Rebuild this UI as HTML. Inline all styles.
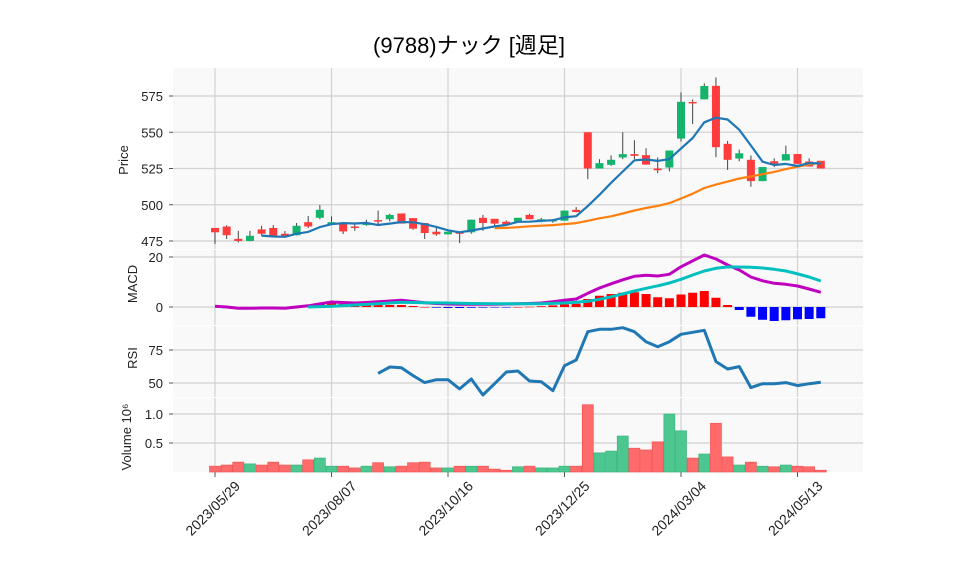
<!DOCTYPE html>
<html><head><meta charset="utf-8">
<style>
body{margin:0;background:#fff;}
svg{display:block;font-family:"Liberation Sans","Noto Sans CJK JP",sans-serif;}
</style></head>
<body>
<svg id="chart" width="958" height="575" viewBox="0 0 958 575" xmlns="http://www.w3.org/2000/svg">
<text x="469" y="53" text-anchor="middle" font-size="22" fill="#000">(9788)ナック [週足]</text>
<g id="panels"></g>
<g id="marks"></g>
</svg>
<script>
const dates=['2023/05/29','2023/08/07','2023/10/16','2023/12/25','2024/03/04','2024/05/13'];
const dateIdx=[0,10,20,30,40,50];
const opens=[484,485,476.5,475,483,484,480,479,488,491,486.5,487.4,485,486,489.4,490,494,490.8,487.4,481.4,479.6,481,481,491,490.3,488.3,488.5,493,489,488.5,489,496.5,550,525,527.5,532.6,534.9,534.2,525,525.7,545.6,570.9,572.7,582,542,531.9,531,516.3,530,530.5,535,529.8,530.3];
const highs=[484,485.8,482,482,485.5,486,481.9,487.4,492.2,499.8,492,487.4,487.4,489.7,496,493.8,494,490.8,487.4,484,481.4,481,489.7,493,490.3,489.2,491,493.8,491,490,496,498.4,550,531.4,534,550,544.5,539,532.6,537.4,577.5,572.7,583.7,587.8,544,538,534,526,532,540.8,535,532,530.3];
const lows=[473,476.4,474,474.8,478.6,477.7,478,478.8,484,490,486.4,479.8,482,485.5,485.5,488.5,487,482.8,476.4,478.6,479.6,473.6,480,482,485,486.2,488,490,488,487.5,489,494.7,517.6,525,526.8,531.4,531.6,527.7,521.8,523,543.6,555.7,572.7,532.8,524,530,512.4,516.3,526,530.5,528.2,526.4,525];
const closes=[481,479,475,478.6,480,478,478,485.5,485,496.5,488,481.6,484.4,487,489,493,487,483.5,480.5,479.6,481.4,480,489.7,487.4,487,486.2,491,490,490,489.5,496,495,525,528.7,531,534.9,533.7,527.7,523.8,537.4,571,570.2,581.9,539.7,531,535.5,516.3,526,528.2,534.9,528.2,526.4,525];
const volumes=[0.10,0.12,0.17,0.14,0.12,0.17,0.12,0.12,0.21,0.24,0.10,0.10,0.07,0.10,0.16,0.09,0.10,0.16,0.17,0.07,0.07,0.10,0.10,0.10,0.05,0.03,0.09,0.10,0.07,0.07,0.10,0.10,1.16,0.33,0.36,0.62,0.41,0.38,0.52,1.0,0.71,0.24,0.31,0.84,0.26,0.12,0.17,0.10,0.09,0.12,0.10,0.09,0.03];
const macdLine=[0.3,0,-0.5,-0.5,-0.4,-0.4,-0.5,0,0.5,1.3,2,1.8,1.6,1.8,2.1,2.4,2.7,2.2,1.7,1.4,1.2,1.1,1.1,1.1,1.1,1.2,1.3,1.4,1.6,2.1,2.7,3.2,5.5,7.6,9.3,10.9,12.3,12.7,12.4,13.1,16.1,18.5,20.8,19.2,16.8,14.8,12,10.5,9.5,9.1,8.4,7.2,5.9];
const signalLine=[null,null,null,null,null,null,null,null,0,0.15,0.3,0.55,0.8,1.05,1.3,1.6,1.9,1.8,1.7,1.65,1.6,1.5,1.4,1.35,1.3,1.3,1.3,1.3,1.3,1.45,1.6,1.9,2.3,3.1,4.1,5.2,6.4,7.5,8.5,9.6,11.1,12.8,14.4,15.5,16,16,15.9,15.6,15.1,14.4,13.3,12,10.4];
const rsiVals=[null,null,null,null,null,null,null,null,null,null,null,null,null,null,57.3,62.1,61.6,55.6,50.3,52.5,52.5,45.5,53,40.9,49.5,58.3,59.1,51.5,51,44.2,63.1,67.4,88.9,90.7,90.7,91.9,88.9,81.3,77.5,81.3,86.9,88.4,89.9,66.2,60.6,62.4,46.5,49.5,49.5,50.3,48,49.5,50.5];
const priceTicks=[475,500,525,550,575];
const macdTicks=[0,20];
const rsiTicks=[50,75];
const volTicks=[0.5,1.0];

const NS='http://www.w3.org/2000/svg';
const panels=document.getElementById('panels'), marks=document.getElementById('marks');
function mk(tag,attrs,parent){const e=document.createElementNS(NS,tag);for(const k in attrs)e.setAttribute(k,attrs[k]);(parent||marks).appendChild(e);return e;}
const X0=173,X1=863;
const xOf=i=>215+i*11.65;
const yP=v=>96+(575-v)*1.45;
const yM=v=>307-v*2.5;
const yR=v=>383-(v-50)*1.32;
const yV=v=>472-v*58;
const P=[{n:'price-panel',t:68,b:249,lab:'Price',ly:160,ticks:priceTicks,f:yP,fmt:v=>v},
 {n:'macd-panel',t:250,b:325,lab:'MACD',ly:284,ticks:macdTicks,f:yM,fmt:v=>v},
 {n:'rsi-panel',t:326,b:397,lab:'RSI',ly:358,ticks:rsiTicks,f:yR,fmt:v=>v},
 {n:'volume-panel',t:398,b:472,lab:'Volume',ly:437,ticks:volTicks,f:yV,fmt:v=>v.toFixed(1)}];
P.forEach(p=>{
  const r=mk('rect',{x:X0,y:p.t,width:X1-X0,height:p.b-p.t,fill:'#f9f9f9'},panels);
  
  
  dateIdx.forEach(i=>mk('line',{x1:xOf(i),x2:xOf(i),y1:p.t,y2:p.b,stroke:'#d2d2d2','stroke-width':1.2},panels));
  p.ticks.forEach(v=>{
    mk('line',{x1:X0,x2:X1,y1:p.f(v),y2:p.f(v),stroke:'#d2d2d2','stroke-width':1.2},panels);
    mk('line',{x1:X0-4,x2:X0,y1:p.f(v),y2:p.f(v),stroke:'#555'},panels);
    const t=mk('text',{x:X0-10,y:p.f(v)+5,'text-anchor':'end','font-size':13,fill:'#222'},panels);
    t.textContent=p.fmt(v);
    
    
  });
  const lx=p.n==='volume-panel'?131:(p.n==='price-panel'?128:137);
  const l=mk('text',{x:lx,y:p.ly,'text-anchor':'middle','font-size':13,fill:'#222',transform:`rotate(-90 ${lx} ${p.ly})`},panels);
  l.textContent=p.n==='volume-panel'?'Volume  10⁶':p.lab;
  
  
});
dateIdx.forEach((i,k)=>{
  mk('line',{x1:xOf(i),x2:xOf(i),y1:472,y2:477,stroke:'#555'},panels);
  const x=xOf(i)+26,y=487;
  const t=mk('text',{x:x,y:y,'text-anchor':'end','font-size':14,fill:'#222',transform:`rotate(-45 ${x} ${y})`},panels);
  t.textContent=dates[k];
  
  
});
const UP='#14b46c',DN='#ff3b3b';
closes.forEach((c,i)=>{
  const o=opens[i],up=c>=o,x=xOf(i);
  const w=mk('line',{x1:x,x2:x,y1:yP(highs[i]),y2:yP(lows[i]),stroke:'#444','stroke-width':1});
  
  
  const top=yP(Math.max(o,c)),h=Math.max(1.5,Math.abs(yP(o)-yP(c)));
  const b=mk('rect',{x:x-4,y:top,width:8,height:h,fill:up?UP:DN});
  
  
});
function ma(n){return closes.map((c,i)=>i<n-1?null:closes.slice(i-n+1,i+1).reduce((a,b)=>a+b,0)/n);}
function path(arr,f,col,w,name){
  let d='';arr.forEach((v,i)=>{if(v==null)return;d+=(d?'L':'M')+xOf(i).toFixed(1)+','+f(v).toFixed(1);});
  const p=mk('path',{d:d,fill:'none',stroke:col,'stroke-width':w,'stroke-linejoin':'round'});
  
  
}
path(ma(25),yP,'#ff7f0e',2.2,'ma25-line');
path(ma(5),yP,'#1f77b4',2.2,'ma5-line');
macdLine.forEach((m,i)=>{
  const s=signalLine[i];if(s==null)return;
  const h=m-s,y1=yM(Math.max(h,0)),y2=yM(Math.min(h,0));
  const r=mk('rect',{x:xOf(i)-4.5,y:y1,width:9,height:Math.max(0.5,y2-y1),fill:h>=0?'#ff0000':'#0000ff'});
  
  
});
path(macdLine,yM,'#bf00bf',3,'macd-line');
path(signalLine,yM,'#00bfbf',3,'signal-line');
path(rsiVals,yR,'#1f77b4',3,'rsi-line');
volumes.forEach((v,i)=>{
  const up=closes[i]>=opens[i];
  const r=mk('rect',{x:xOf(i)-5.5,y:yV(v),width:11,height:472-yV(v),fill:up?'#4cc790':'#ff6b6b',stroke:up?'#3cb37c':'#f25555','stroke-width':0.7});
  
  
});
</script>
</body></html>
